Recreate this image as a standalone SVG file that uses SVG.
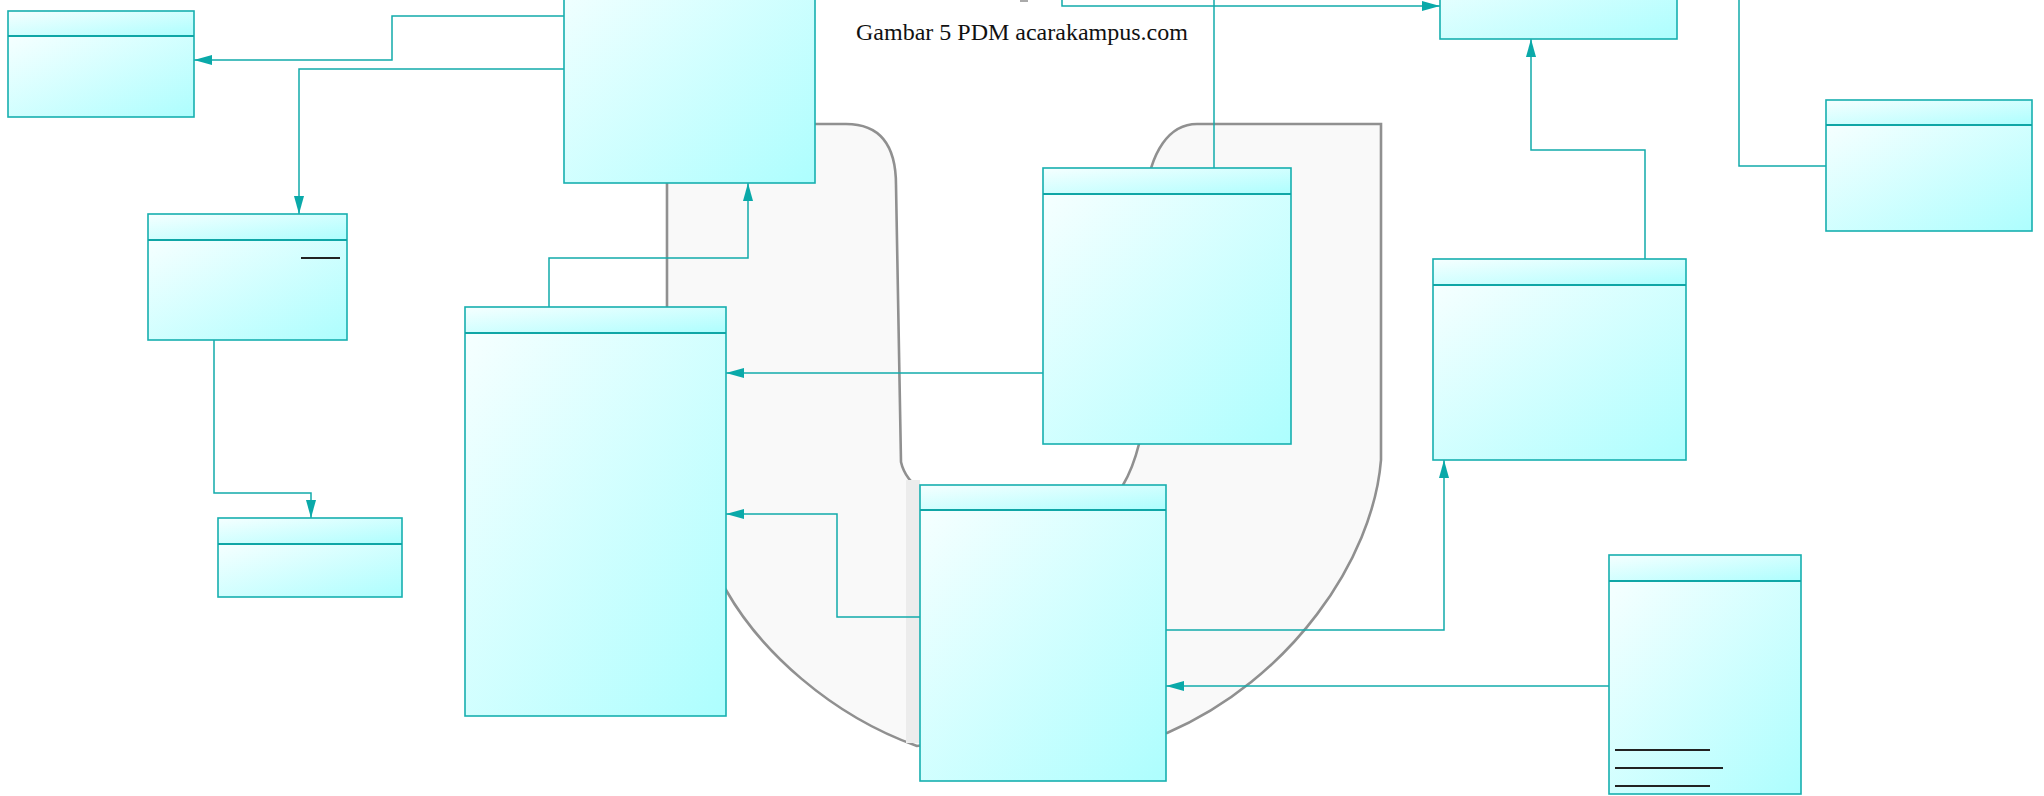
<svg xmlns="http://www.w3.org/2000/svg" width="2044" height="796" viewBox="0 0 2044 796">
<defs>
<linearGradient id="g" x1="0" y1="0" x2="1" y2="1">
<stop offset="0" stop-color="#f6ffff"/>
<stop offset="1" stop-color="#adfefe"/>
</linearGradient>
<marker id="arr" markerUnits="userSpaceOnUse" markerWidth="18" markerHeight="10" refX="18" refY="5" orient="auto">
<path d="M0,0 L18,5 L0,10 Z" fill="#0aa9a9"/>
</marker>
</defs>
<style>
.box{fill:url(#g);stroke:#17afaf;stroke-width:1.6}
.cmp{fill:url(#g);stroke:none}
.frame{fill:none;stroke:#17afaf;stroke-width:1.6}
.hdr{stroke:#0fa6a6;stroke-width:1.8}
.conn{fill:none;stroke:#12abab;stroke-width:1.5;marker-end:url(#arr)}
.plain{fill:none;stroke:#12abab;stroke-width:1.5}
.blob{fill:#f9f9f9;stroke:#909090;stroke-width:2.6}
.ul{stroke:#222;stroke-width:2}
</style>
<rect width="2044" height="796" fill="#ffffff"/>
<g id="background">
<path class="blob" d="M667,124 H846 Q896,124 896,185 L901,462 Q905,480 924,492 L924,745 L917,746 C830,715 760,650 726,590 L667,480 Z"/>
<rect x="906" y="480" width="14" height="263" fill="#ececec"/>
<path class="blob" d="M1197,124 H1381 V460 C1373,560 1290,680 1167,733 L1140,733 L1123,485 Q1133,468 1139,444 L1145,200 C1150,150 1170,124 1197,124 Z"/>
<rect x="1020" y="0" width="8" height="2" fill="#aaaaaa"/>
</g>
<text x="856" y="40" font-family="Liberation Serif, 'Times New Roman', serif" font-size="24" fill="#111">Gambar 5 PDM acarakampus.com</text>
<g id="connectors">
<path class="conn" d="M564,16 H392 V60 H194"/>
<path class="conn" d="M564,69 H299 V214"/>
<path class="conn" d="M214,340 V493 H311 V518"/>
<path class="conn" d="M549,307 V258 H748 V183"/>
<path class="conn" d="M1043,373 H726"/>
<path class="conn" d="M920,617 H837 V514 H726"/>
<path class="conn" d="M1166,630 H1444 V460"/>
<path class="conn" d="M1609,686 H1166"/>
<path class="conn" d="M1645,259 V150 H1531 V39"/>
<path class="plain" d="M1214,168 V0"/>
<path class="conn" d="M1062,0 V6 H1440"/>
<path class="plain" d="M1826,166 H1739 V0"/>
</g>
<g id="nodeA">
<rect class="cmp" x="8" y="11" width="186" height="25"/><rect class="cmp" x="8" y="36" width="186" height="81"/>
<rect class="frame" x="8" y="11" width="186" height="106"/>
<line class="hdr" x1="8" y1="36" x2="194" y2="36"/>
</g>
<g id="nodeB">
<rect class="box" x="564" y="-40" width="251" height="223"/>
</g>
<g id="nodeC">
<rect class="cmp" x="148" y="214" width="199" height="26"/><rect class="cmp" x="148" y="240" width="199" height="100"/>
<rect class="frame" x="148" y="214" width="199" height="126"/>
<line class="hdr" x1="148" y1="240" x2="347" y2="240"/>
<line class="ul" x1="301" y1="258" x2="340" y2="258"/>
</g>
<g id="nodeD">
<rect class="cmp" x="218" y="518" width="184" height="26"/><rect class="cmp" x="218" y="544" width="184" height="53"/>
<rect class="frame" x="218" y="518" width="184" height="79"/>
<line class="hdr" x1="218" y1="544" x2="402" y2="544"/>
</g>
<g id="nodeE">
<rect class="cmp" x="465" y="307" width="261" height="26"/><rect class="cmp" x="465" y="333" width="261" height="383"/>
<rect class="frame" x="465" y="307" width="261" height="409"/>
<line class="hdr" x1="465" y1="333" x2="726" y2="333"/>
</g>
<g id="nodeF">
<rect class="cmp" x="920" y="485" width="246" height="25"/><rect class="cmp" x="920" y="510" width="246" height="271"/>
<rect class="frame" x="920" y="485" width="246" height="296"/>
<line class="hdr" x1="920" y1="510" x2="1166" y2="510"/>
</g>
<g id="nodeG">
<rect class="cmp" x="1043" y="168" width="248" height="26"/><rect class="cmp" x="1043" y="194" width="248" height="250"/>
<rect class="frame" x="1043" y="168" width="248" height="276"/>
<line class="hdr" x1="1043" y1="194" x2="1291" y2="194"/>
</g>
<g id="nodeH">
<rect class="box" x="1440" y="-40" width="237" height="79"/>
</g>
<g id="nodeI">
<rect class="cmp" x="1433" y="259" width="253" height="26"/><rect class="cmp" x="1433" y="285" width="253" height="175"/>
<rect class="frame" x="1433" y="259" width="253" height="201"/>
<line class="hdr" x1="1433" y1="285" x2="1686" y2="285"/>
</g>
<g id="nodeJ">
<rect class="cmp" x="1826" y="100" width="206" height="25"/><rect class="cmp" x="1826" y="125" width="206" height="106"/>
<rect class="frame" x="1826" y="100" width="206" height="131"/>
<line class="hdr" x1="1826" y1="125" x2="2032" y2="125"/>
</g>
<g id="nodeK">
<rect class="cmp" x="1609" y="555" width="192" height="26"/><rect class="cmp" x="1609" y="581" width="192" height="213"/>
<rect class="frame" x="1609" y="555" width="192" height="239"/>
<line class="hdr" x1="1609" y1="581" x2="1801" y2="581"/>
<line class="ul" x1="1615" y1="750" x2="1710" y2="750" stroke="#333"/>
<line class="ul" x1="1615" y1="768" x2="1723" y2="768"/>
<line class="ul" x1="1615" y1="786" x2="1710" y2="786"/>
</g>
</svg>
